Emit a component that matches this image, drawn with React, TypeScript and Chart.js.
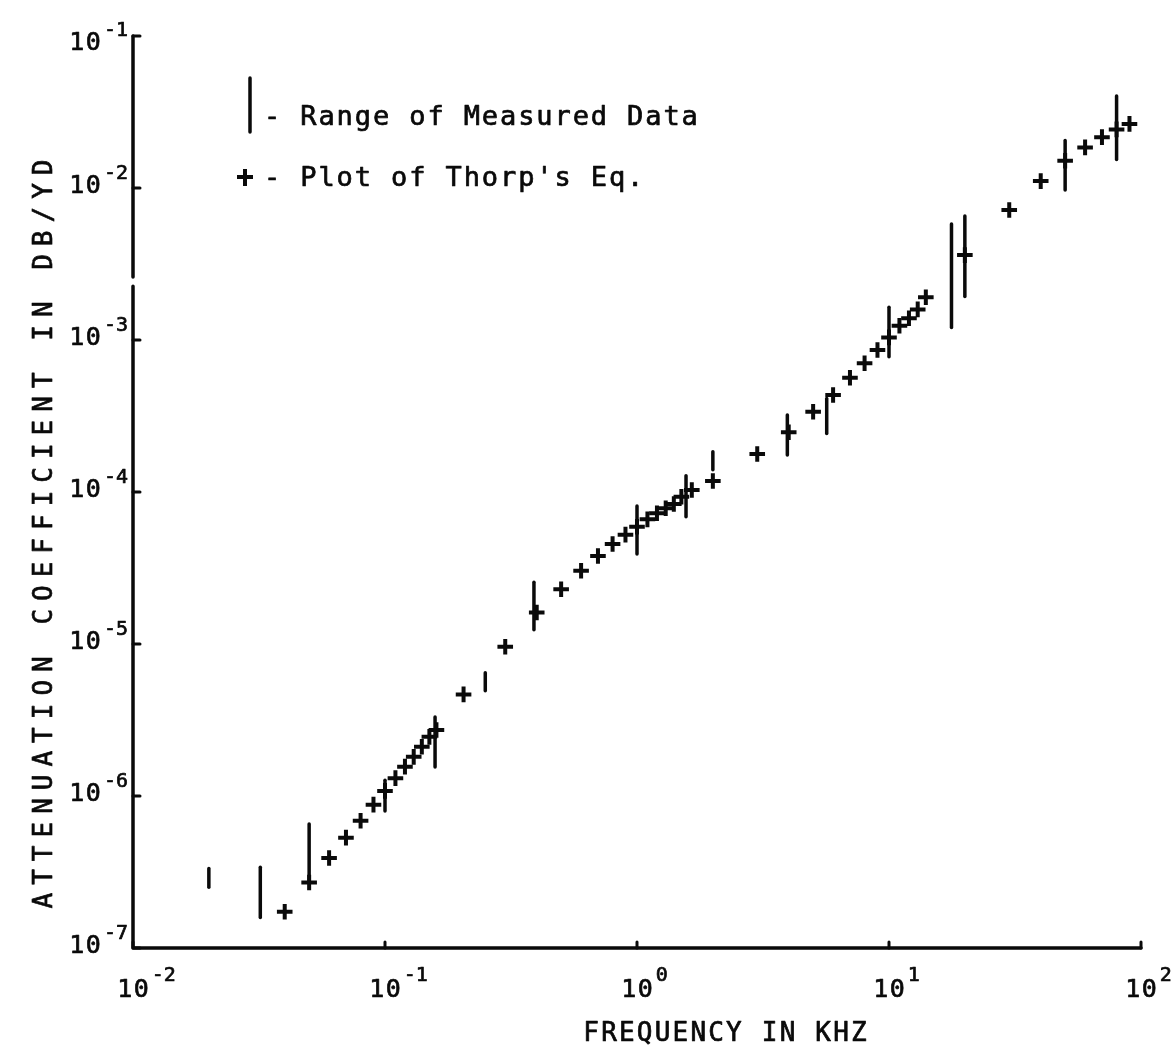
import React, { useEffect, useRef } from 'react';
import { Chart, registerables } from 'chart.js';

Chart.register(...registerables);

// ---- data ----
const thorpFreq = [
  0.04, 0.05, 0.06, 0.07, 0.08, 0.09, 0.1, 0.11, 0.12, 0.13, 0.14, 0.15, 0.16,
  0.205, 0.3, 0.4, 0.5, 0.6, 0.7, 0.8, 0.9, 1.0, 1.1, 1.2, 1.3, 1.4, 1.5, 1.65,
  2, 3, 4, 5, 6, 7, 8, 9, 10, 11, 12, 13, 14, 20, 30, 40, 50, 60, 70, 80, 90,
];
const thorpAtten = [
  1.73e-7, 2.7e-7, 3.91e-7, 5.32e-7, 6.88e-7, 8.77e-7, 1.08e-6, 1.31e-6, 1.56e-6, 1.81e-6, 2.11e-6, 2.45e-6, 2.72e-6,
  4.66e-6, 9.6e-6, 1.61e-5, 2.29e-5, 3.03e-5, 3.79e-5, 4.55e-5, 5.24e-5, 5.91e-5, 6.61e-5, 7.24e-5, 7.82e-5, 8.34e-5, 9.31e-5, 1.03e-4,
  1.18e-4, 1.78e-4, 2.47e-4, 3.37e-4, 4.35e-4, 5.65e-4, 7.03e-4, 8.59e-4, 1.04e-3, 1.24e-3, 1.39e-3, 1.59e-3, 1.91e-3, 3.62e-3, 7.16e-3, 1.11e-2, 1.51e-2, 1.85e-2, 2.16e-2, 2.43e-2, 2.64e-2,
];

const rangeFreq = [0.02, 0.032, 0.05, 0.1, 0.158, 0.25, 0.39, 1.0, 1.565, 2.0, 3.95, 5.66, 10, 17.7, 20, 50, 80];
const rangeLow = [2.51e-7, 1.59e-7, 2.72e-7, 7.96e-7, 1.55e-6, 4.93e-6, 1.24e-5, 3.91e-5, 6.88e-5, 1.4e-4, 1.75e-4, 2.43e-4, 7.76e-4, 1.21e-3, 1.93e-3, 9.7e-3, 1.54e-2];
const rangeHigh = [3.34e-7, 3.4e-7, 6.54e-7, 1.27e-6, 3.31e-6, 6.48e-6, 2.55e-5, 8.09e-5, 1.28e-4, 1.84e-4, 3.21e-4, 4.13e-4, 1.64e-3, 5.8e-3, 6.54e-3, 2.05e-2, 4.03e-2];

const xTickValues = [0.01, 0.1, 1, 10, 100];
const xTickExponents = ['-2', '-1', '0', '1', '2'];
const yTickValues = [1e-1, 1e-2, 1e-3, 1e-4, 1e-5, 1e-6, 1e-7];
const yTickExponents = ['-1', '-2', '-3', '-4', '-5', '-6', '-7'];
const tickBase = '10';

const xTitle = 'FREQUENCY IN KHZ';
const yTitle = 'ATTENUATION COEFFICIENT IN DB/YD';
const legendRangeText = '- Range of Measured Data';
const legendThorpText = "- Plot of Thorp's Eq.";

// axis break on the y axis (between these two values)
const yBreak = [2.6e-3, 2.26e-3];

// ---- styling ----
const INK = '#0a0a0a';
const FONT = '"DejaVu Sans Mono", "Liberation Mono", monospace';

function spacedWidth(ctx: CanvasRenderingContext2D, text: string, spacing: number) {
  let w = 0;
  const chars = Array.from(text);
  chars.forEach((ch, i) => {
    w += ctx.measureText(ch).width + (i < chars.length - 1 ? spacing : 0);
  });
  return w;
}

function spacedText(ctx: CanvasRenderingContext2D, text: string, x: number, y: number, spacing: number) {
  let cx = x;
  for (const ch of Array.from(text)) {
    ctx.fillText(ch, cx, y);
    ctx.strokeText(ch, cx, y);
    cx += ctx.measureText(ch).width + spacing;
  }
  return cx;
}

const decorPlugin = {
  id: 'decor',
  afterDraw(chart: any) {
    const { ctx } = chart;
    const xs = chart.scales.x;
    const ys = chart.scales.y;
    const left = xs.getPixelForValue(xTickValues[0]);
    const right = xs.getPixelForValue(xTickValues[xTickValues.length - 1]);
    const top = ys.getPixelForValue(yTickValues[0]);
    const bottom = ys.getPixelForValue(yTickValues[yTickValues.length - 1]);

    ctx.save();
    ctx.strokeStyle = INK;
    ctx.fillStyle = INK;
    ctx.lineCap = 'round';
    ctx.lineWidth = 3.5;

    // y axis with break
    ctx.beginPath();
    ctx.moveTo(left, top);
    ctx.lineTo(left, ys.getPixelForValue(yBreak[0]));
    ctx.moveTo(left, ys.getPixelForValue(yBreak[1]));
    ctx.lineTo(left, bottom);
    // x axis
    ctx.moveTo(left, bottom);
    ctx.lineTo(right, bottom);
    ctx.stroke();

    // tick marks (inward)
    ctx.lineWidth = 3;
    ctx.beginPath();
    yTickValues.forEach((v) => {
      const py = ys.getPixelForValue(v);
      ctx.moveTo(left, py);
      ctx.lineTo(left + 7, py);
    });
    xTickValues.forEach((v) => {
      const px = xs.getPixelForValue(v);
      ctx.moveTo(px, bottom);
      ctx.lineTo(px, bottom - 6);
    });
    ctx.stroke();

    // text weight thickening
    ctx.lineWidth = 0.7;
    ctx.lineJoin = 'round';

    // y tick labels
    ctx.textBaseline = 'alphabetic';
    ctx.textAlign = 'left';
    yTickValues.forEach((v, i) => {
      const py = ys.getPixelForValue(v);
      const base = Math.max(py + 5, 50);
      ctx.font = `25px ${FONT}`;
      const wBase = spacedWidth(ctx, tickBase, 1.5);
      ctx.font = `20px ${FONT}`;
      const wExp = spacedWidth(ctx, yTickExponents[i], 0);
      const start = left - 5 - wExp - 3 - wBase;
      ctx.font = `25px ${FONT}`;
      spacedText(ctx, tickBase, start, base, 1.5);
      ctx.font = `20px ${FONT}`;
      spacedText(ctx, yTickExponents[i], start + wBase + 3, base - 14, 0);
    });

    // x tick labels
    xTickValues.forEach((v, i) => {
      const px = xs.getPixelForValue(v);
      const base = bottom + 49;
      ctx.font = `25px ${FONT}`;
      const wBase = spacedWidth(ctx, tickBase, 1.5);
      const start = px - wBase / 2;
      spacedText(ctx, tickBase, start, base, 1.5);
      ctx.font = `20px ${FONT}`;
      spacedText(ctx, xTickExponents[i], start + wBase + 3, base - 16, 0);
    });

    // x title
    ctx.font = `26px ${FONT}`;
    const xtw = spacedWidth(ctx, xTitle, 2.2);
    spacedText(ctx, xTitle, 725 - xtw / 2, bottom + 93, 2.2);

    // y title (rotated)
    ctx.save();
    ctx.translate(45, 534);
    ctx.rotate(-Math.PI / 2);
    ctx.textBaseline = 'middle';
    ctx.font = `26px ${FONT}`;
    const ytw = spacedWidth(ctx, yTitle, 8);
    spacedText(ctx, yTitle, -ytw / 2, 0, 8);
    ctx.restore();

    // legend
    ctx.lineWidth = 3.5;
    ctx.beginPath();
    ctx.moveTo(250, 78);
    ctx.lineTo(250, 132);
    ctx.stroke();
    ctx.lineWidth = 4;
    ctx.lineCap = 'butt';
    ctx.beginPath();
    ctx.moveTo(237, 177);
    ctx.lineTo(253, 177);
    ctx.moveTo(245, 169);
    ctx.lineTo(245, 186);
    ctx.stroke();
    ctx.lineWidth = 0.7;
    ctx.font = `27px ${FONT}`;
    ctx.textBaseline = 'alphabetic';
    spacedText(ctx, legendRangeText, 264, 125, 1.9);
    spacedText(ctx, legendThorpText, 264, 186, 1.9);

    ctx.restore();
  },
};

export default function App() {
  const canvasRef = useRef<HTMLCanvasElement | null>(null);

  useEffect(() => {
    if (!canvasRef.current) return;
    const rangeDatasets = rangeFreq.map((f, i) => ({
      type: 'line' as const,
      data: [
        { x: f, y: rangeLow[i] },
        { x: f, y: rangeHigh[i] },
      ],
      showLine: true,
      borderColor: INK,
      borderWidth: 3.5,
      borderCapStyle: 'round' as const,
      pointRadius: 0,
      fill: false,
    }));
    const chart = new Chart(canvasRef.current, {
      type: 'scatter',
      data: {
        datasets: [
          ...rangeDatasets,
          {
            type: 'scatter' as const,
            data: thorpFreq.map((f, i) => ({ x: f, y: thorpAtten[i] })),
            pointStyle: 'cross',
            pointRadius: 7.8,
            pointBorderWidth: 4,
            borderWidth: 4,
            borderColor: INK,
            backgroundColor: INK,
          },
        ] as any,
      },
      options: {
        responsive: false,
        animation: false,
        layout: { padding: { left: 133, right: 30, top: 36, bottom: 116 } },
        plugins: { legend: { display: false }, tooltip: { enabled: false } },
        scales: {
          x: { type: 'logarithmic', min: 0.01, max: 100, display: false },
          y: { type: 'logarithmic', min: 1e-7, max: 1e-1, display: false },
        },
      },
      plugins: [decorPlugin],
    });
    return () => chart.destroy();
  }, []);

  return (
    <div style={{ position: 'fixed', left: 0, top: 0, width: 1171, height: 1064, background: '#fff' }}>
      <canvas ref={canvasRef} width={1171} height={1064} />
    </div>
  );
}
